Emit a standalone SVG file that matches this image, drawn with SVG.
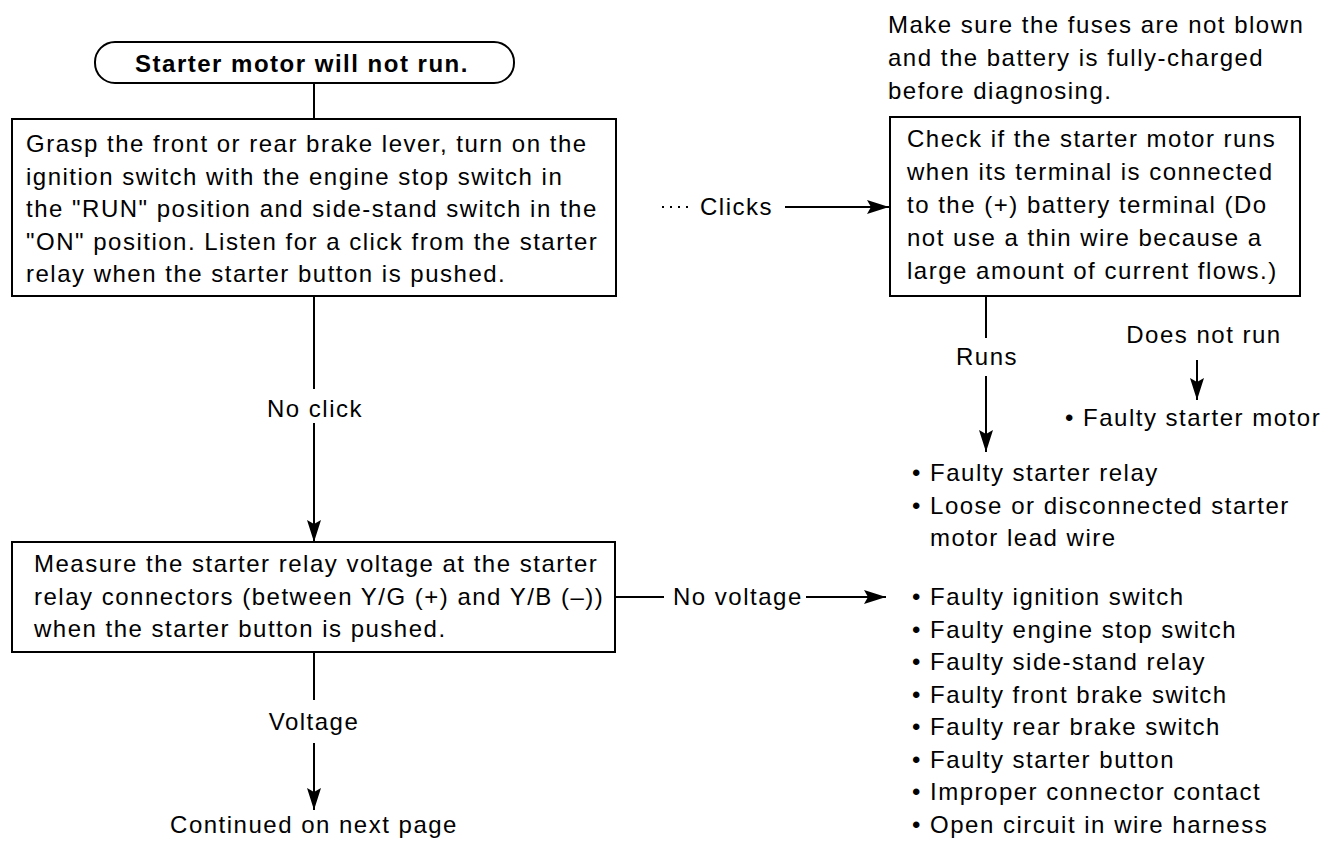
<svg xmlns="http://www.w3.org/2000/svg" width="1338" height="843" viewBox="0 0 1338 843">
<style>
text{font-family:"Liberation Sans",Arial,sans-serif;font-size:24px;letter-spacing:1.5px;fill:#000}
.title{font-weight:bold}
.box{fill:#fff;stroke:#000;stroke-width:2}
.c{fill:none;stroke:#000;stroke-width:2}
.dot{fill:none;stroke:#000;stroke-width:2;stroke-dasharray:2 6}
.mid{text-anchor:middle}
</style>
<defs>
<marker id="ah" markerUnits="userSpaceOnUse" markerWidth="24" markerHeight="14" refX="22" refY="7" orient="auto">
<path d="M0,0 L22,7 L0,14 L4,7 Z" fill="#000"/>
</marker>
</defs>
<rect width="1338" height="843" fill="#fff"/>
<g id="connectors">
<path class="c" d="M314,83 V119"/>
<path class="c" d="M314,296 V389"/>
<path class="c" d="M314,423 V542" marker-end="url(#ah)"/>
<path class="dot" d="M662,207 H692"/>
<path class="c" d="M785,207 H889" marker-end="url(#ah)"/>
<path class="c" d="M986,296 V338"/>
<path class="c" d="M986,376 V452" marker-end="url(#ah)"/>
<path class="c" d="M1197,360 V400" marker-end="url(#ah)"/>
<path class="c" d="M615,597 H664"/>
<path class="c" d="M806,597 H886" marker-end="url(#ah)"/>
<path class="c" d="M314,652 V700"/>
<path class="c" d="M314,743 V810" marker-end="url(#ah)"/>
<text x="700" y="215">Clicks</text>
<text class="mid" x="315" y="417">No click</text>
<text class="mid" x="987" y="365">Runs</text>
<text class="mid" x="1204" y="343">Does not run</text>
<text x="673" y="605">No voltage</text>
<text class="mid" x="314" y="730">Voltage</text>
</g>
<g id="start">
<rect class="box" x="95" y="42" width="419" height="41" rx="20" ry="20"/>
<text class="title mid" x="302" y="72">Starter motor will not run.</text>
</g>
<g id="check-click">
<rect class="box" x="12" y="119" width="604" height="177"/>
<text x="26" y="152">Grasp the front or rear brake lever, turn on the</text>
<text x="26" y="184.5">ignition switch with the engine stop switch in</text>
<text x="26" y="217">the "RUN" position and side-stand switch in the</text>
<text x="26" y="249.5">"ON" position. Listen for a click from the starter</text>
<text x="26" y="282">relay when the starter button is pushed.</text>
</g>
<g id="note">
<text x="888" y="33">Make sure the fuses are not blown</text>
<text x="888" y="66">and the battery is fully-charged</text>
<text x="888" y="99">before diagnosing.</text>
</g>
<g id="check-motor">
<rect class="box" x="890" y="117" width="410" height="179"/>
<text x="907" y="147">Check if the starter motor runs</text>
<text x="907" y="180">when its terminal is connected</text>
<text x="907" y="213">to the (+) battery terminal (Do</text>
<text x="907" y="246">not use a thin wire because a</text>
<text x="907" y="279">large amount of current flows.)</text>
</g>
<g id="faulty-motor">
<text x="1065" y="426">• Faulty starter motor</text>
</g>
<g id="faulty-relay">
<text x="912" y="481">• Faulty starter relay</text>
<text x="912" y="514">• Loose or disconnected starter</text>
<text x="930" y="546">motor lead wire</text>
</g>
<g id="measure">
<rect class="box" x="12" y="542" width="603" height="110"/>
<text x="34" y="572">Measure the starter relay voltage at the starter</text>
<text x="34" y="604.5">relay connectors (between Y/G (+) and Y/B (–))</text>
<text x="34" y="637">when the starter button is pushed.</text>
</g>
<g id="no-voltage-causes">
<text x="912" y="605">• Faulty ignition switch</text>
<text x="912" y="637.5">• Faulty engine stop switch</text>
<text x="912" y="670">• Faulty side-stand relay</text>
<text x="912" y="702.5">• Faulty front brake switch</text>
<text x="912" y="735">• Faulty rear brake switch</text>
<text x="912" y="767.5">• Faulty starter button</text>
<text x="912" y="800">• Improper connector contact</text>
<text x="912" y="832.5">• Open circuit in wire harness</text>
</g>
<g id="continued">
<text class="mid" x="314" y="833">Continued on next page</text>
</g>
</svg>
